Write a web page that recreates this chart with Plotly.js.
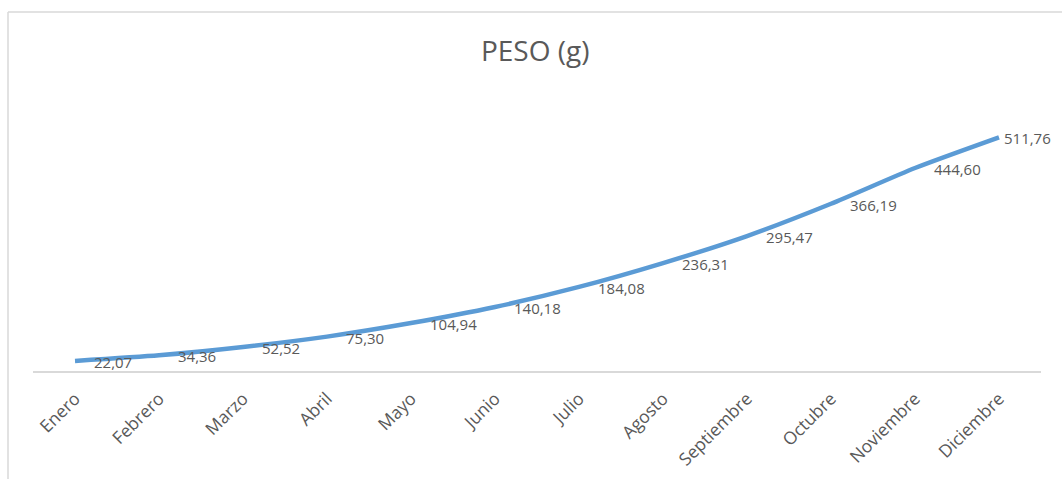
<!DOCTYPE html>
<html><head><meta charset="utf-8">
<script src="https://cdn.plot.ly/plotly-3.0.1.min.js"></script>
<style>html,body{margin:0;padding:0;background:#fff}#c{width:1062px;height:479px}</style>
</head><body><div id="c"></div>
<script>
const months = ["Enero","Febrero","Marzo","Abril","Mayo","Junio","Julio","Agosto","Septiembre","Octubre","Noviembre","Diciembre"];
const peso = [22.07,34.36,52.52,75.30,104.94,140.18,184.08,236.31,295.47,366.19,444.60,511.76];
const labels = peso.map(v => v.toFixed(2).replace('.', ','));

const FONT = 'Open Sans, Noto Sans, sans-serif';
const trace = {
  x: months, y: peso, type: 'scatter', mode: 'lines',
  line: {color: '#5B9BD5', width: 4.5, shape: 'spline', smoothing: 0.6},
  hoverinfo: 'skip'
};
// Last label is pulled in so it stays inside the chart area (as the original does)
const annotations = months.map((m, i) => ({
  x: m, y: peso[i], xref: 'x', yref: 'y', text: labels[i], showarrow: false,
  xanchor: 'left', yanchor: 'middle', xshift: (i === months.length - 1) ? 3 : 17, yshift: -1,
  font: {family: FONT, size: 15, color: '#595959'}
}));
const layout = {
  width: 1062, height: 479,
  margin: {l: 33, r: 21, t: 97, b: 108},
  paper_bgcolor: '#fff', plot_bgcolor: '#fff',
  showlegend: false,
  title: {text: 'PESO (g)', x: 0.504, xanchor: 'center', y: 0.893, yanchor: 'middle',
          font: {family: FONT, size: 28, color: '#595959'}},
  xaxis: {type: 'category', range: [-0.5, 11.5], showline: true, linecolor: '#D9D9D9', linewidth: 1.5,
          showgrid: false, zeroline: false, ticks: '', tickangle: -45, ticklabelstandoff: 9,
          tickfont: {family: FONT, size: 17.5, color: '#595959'}},
  yaxis: {visible: false, range: [0, 600], fixedrange: true},
  annotations: annotations,
  shapes: [
    {type: 'line', xref: 'paper', yref: 'paper', x0: -0.0248, x1: -0.0248, y0: -1, y1: 1.31,
     line: {color: '#D9D9D9', width: 1.5}},
    {type: 'line', xref: 'paper', yref: 'paper', x0: -0.0248, x1: 1.1, y0: 1.31, y1: 1.31,
     line: {color: '#D9D9D9', width: 1.5}}
  ]
};
Plotly.newPlot('c', [trace], layout, {displayModeBar: false, staticPlot: true});
</script></body></html>
